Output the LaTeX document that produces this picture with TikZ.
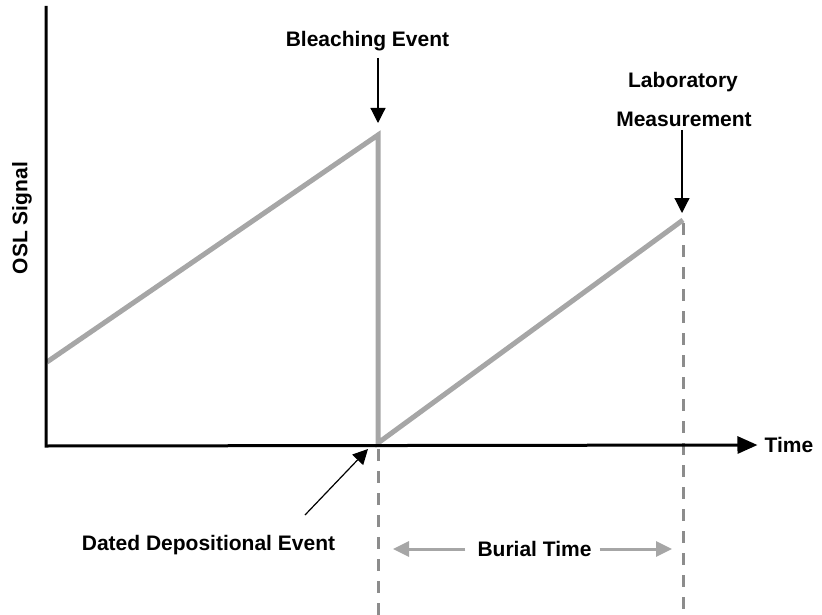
\documentclass[tikz,border=0pt]{standalone}
\usepackage{fontspec}
\setmainfont{Liberation Sans}
\usetikzlibrary{arrows.meta}
\definecolor{curvegray}{HTML}{A6A6A6}
\definecolor{dashgray}{HTML}{8C8C8C}
\begin{document}
\begin{tikzpicture}[x=1pt,y=-1pt,
  lbl/.style={font=\fontsize{21}{25}\selectfont\bfseries, inner sep=0pt, text=black},
  axisline/.style={line width=3pt, black, line join=miter},
  curve/.style={line width=5pt, curvegray, line join=miter},
  guide/.style={line width=3pt, dashgray, dash pattern=on 12pt off 10pt},
  pointer/.style={line width=1.2pt, black, -{Triangle[length=15pt,width=15pt]}},
  spanarrow/.style={line width=3pt, curvegray, -{Triangle[length=16pt,width=15pt]}}
]
\useasboundingbox (0,0) rectangle (822,615);

% key points
\coordinate (ytop) at (46,6);
\coordinate (origin) at (46,446);
\coordinate (start) at (47,362);
\coordinate (peak) at (378,135);
\coordinate (dep) at (378,443);
\coordinate (meas) at (683,220);
\coordinate (depdash) at (378,449);
\coordinate (depbot) at (378,615);
\coordinate (measdash) at (683,223);
\coordinate (measbot) at (683,615);

% labels
\node[lbl] (timelbl) at (789,445) {Time};
\node[lbl, rotate=90] (osl) at (22,218) {OSL Signal};
\node[lbl] (bleach) at (367.5,41) {Bleaching Event};
\node[lbl] (lab1) at (683,82) {Laboratory};
\node[lbl] (lab2) at (684,119) {Measurement};
\node[lbl] (dated) at (208.5,545) {Dated Depositional Event};
\node[lbl] (burial) at (534.5,549) {Burial Time};

% guides
\draw[guide] (depdash) -- (depbot);
\draw[guide] (measdash) -- (measbot);

% signal curve
\draw[curve] (start) -- (peak) -- (dep) -- (meas);

% axes
\draw[axisline, -{Triangle[length=20pt,width=17pt]}, shorten >=7pt] (ytop) -- (origin) -- (timelbl.west);

% pointers
\coordinate (bleachtail) at (378,58);
\coordinate (bleachtip) at (378,123);
\draw[pointer] (bleachtail) -- (bleachtip);
\coordinate (labtail) at (682,130);
\coordinate (labtip) at (682,213);
\draw[pointer] (labtail) -- (labtip);
\coordinate (datedtail) at (305,515);
\coordinate (datedtip) at (368,449);
\draw[pointer] (datedtail) -- (datedtip);

% burial span
\coordinate (spanl) at (393,549);
\coordinate (spanr) at (672,549);
\draw[spanarrow, shorten <=12pt] (burial.west) -- (spanl);
\draw[spanarrow, shorten <=8pt] (burial.east) -- (spanr);
\end{tikzpicture}
\end{document}
